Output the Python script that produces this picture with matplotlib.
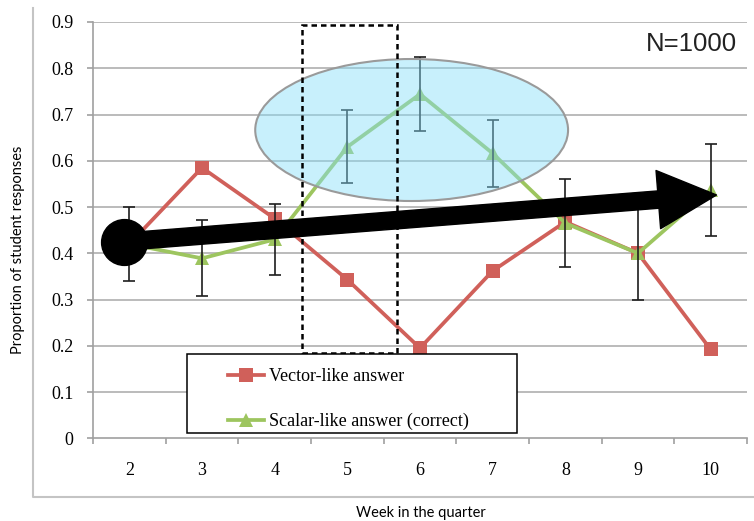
import matplotlib
matplotlib.use("Agg")
import matplotlib.pyplot as plt
from matplotlib.patches import Ellipse, Rectangle, FancyArrowPatch
from matplotlib.lines import Line2D
import numpy as np

plt.rcParams["font.family"] = ["Liberation Serif"]

weeks = [2, 3, 4, 5, 6, 7, 8, 9, 10]
vector_like = [0.42, 0.585, 0.475, 0.343, 0.195, 0.362, 0.468, 0.40, 0.192]
scalar_like = [0.42, 0.389, 0.43, 0.630, 0.744, 0.616, 0.465, 0.40, 0.537]
scalar_err = [0.081, 0.082, 0.077, 0.079, 0.080, 0.072, 0.095, 0.100, 0.100]
y_ticks = [0, 0.1, 0.2, 0.3, 0.4, 0.5, 0.6, 0.7, 0.8, 0.9]
y_tick_labels = ["0", "0.1", "0.2", "0.3", "0.4", "0.5", "0.6", "0.7", "0.8", "0.9"]
series_labels = ["Vector-like answer", "Scalar-like answer (correct)"]
trend_start = (-0.08, 0.425)
trend_end = (8.08, 0.526)
highlight_center = (3.885, 0.6665)
highlight_size = (4.305, 0.307)
box_x = (2.371, 3.686)
box_y = (0.185, 0.8935)

W, H = 754, 521
fig = plt.figure(figsize=(W / 100, H / 100), dpi=100)
ax = fig.add_axes([93 / W, 1 - 438.3 / H, (747 - 93) / W, (438.3 - 22) / H])

x = np.arange(len(weeks))
red = "#d0605a"
green = "#9dc55f"
serif = "Liberation Serif"

# grid
for yv in y_ticks[1:]:
    ax.axhline(yv, color="#a8a8a8", lw=1.1, zorder=0.5)

l_vec, = ax.plot(x, vector_like, color=red, lw=2.7, marker="s", ms=10,
                 markeredgewidth=0, zorder=2, label=series_labels[0])
l_sca, = ax.plot(x, scalar_like, color=green, lw=2.7, marker="^", ms=10.5,
                 markeredgewidth=0, zorder=3, label=series_labels[1])
ax.errorbar(x, scalar_like, yerr=scalar_err, fmt="none", ecolor="#1e1e1e",
            elinewidth=1.2, capsize=4, capthick=1.2, zorder=4)

# highlight ellipse
ell = Ellipse(highlight_center, highlight_size[0], highlight_size[1],
              facecolor=(0.52, 0.87, 0.98, 0.45), edgecolor="#9a9a9a",
              lw=1.5, zorder=5)
ax.add_patch(ell)

# dashed box
rect = Rectangle((box_x[0], box_y[0]), box_x[1] - box_x[0], box_y[1] - box_y[0],
                 fill=False, edgecolor="black", lw=1.8, linestyle=(0, (2.2, 1.6)),
                 zorder=6)
ax.add_patch(rect)

# trend arrow
arr = FancyArrowPatch(trend_start, trend_end,
                      arrowstyle="simple,head_length=42,head_width=42,tail_width=12.5",
                      mutation_scale=1, color="black", shrinkA=0, shrinkB=0, zorder=7)
ax.add_patch(arr)
ax.plot([trend_start[0]], [trend_start[1]], "o", color="black", ms=33, zorder=8,
        clip_on=False)

ax.set_xlim(-0.5, len(weeks) - 0.5)
ax.set_ylim(0, 0.9)
ax.set_yticks(y_ticks)
ax.set_yticklabels(y_tick_labels, fontfamily=serif, fontsize=13)
ax.set_xticks(np.arange(len(weeks) + 1) - 0.5)
ax.set_xticklabels([])
ax.set_xticks(x, minor=True)
ax.set_xticklabels([str(w) for w in weeks], minor=True, fontfamily=serif, fontsize=13)
ax.tick_params(axis="x", which="minor", length=0, pad=17)
ax.tick_params(axis="x", which="major", length=4, color="#a0a0a0", width=1.2)
ax.tick_params(axis="y", length=4, color="#a0a0a0", width=1.2, pad=10)
for s in ["top", "right"]:
    ax.spines[s].set_visible(False)
for s in ["left", "bottom"]:
    ax.spines[s].set_color("#a0a0a0")
    ax.spines[s].set_linewidth(1.2)

ax.text(0.985, 0.975, "N=1000", transform=ax.transAxes, ha="right", va="top",
        fontfamily="Liberation Sans", fontsize=18.5, color="#222222")

# legend box + legend entries
lbox = Rectangle((187 / W, 1 - 433.3 / H), 330 / W, 79.3 / H, transform=fig.transFigure,
                 facecolor="white", edgecolor="black", lw=1.1, zorder=9, clip_on=False)
ax.add_patch(lbox)
leg = ax.legend(handles=[l_vec, l_sca], loc="upper left",
                bbox_to_anchor=(228 / W, 1 - 368 / H), bbox_transform=fig.transFigure,
                frameon=False, borderpad=0, borderaxespad=0, handlelength=2.0,
                handletextpad=0.25, labelspacing=1.55,
                prop={"family": serif, "size": 13})
leg.set_zorder(10)

fig.text(18 / W, 1 - 250 / H, "Proportion of student responses", rotation=90,
         ha="center", va="center", fontfamily="Lato", fontsize=10.5)
fig.text(421 / W, 1 - 513 / H, "Week in the quarter", ha="center", va="center",
         fontfamily="Lato", fontsize=10.5)

# outer chart frame
fig.add_artist(Line2D([33 / W, 33 / W, 1.0], [1 - 8 / H, 1 - 497 / H, 1 - 497 / H],
                      transform=fig.transFigure, color="#c4c4c4", lw=1.5))

fig.savefig("out.png", dpi=100)
